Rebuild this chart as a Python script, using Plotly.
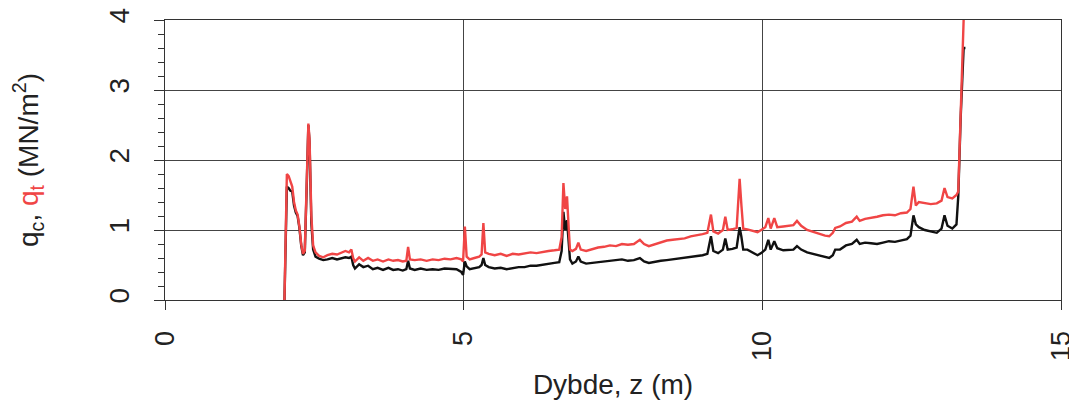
import plotly.graph_objects as go

depth = [2.00, 2.02, 2.04, 2.07, 2.10, 2.13, 2.16, 2.19, 2.22, 2.25, 2.28, 2.31, 2.34, 2.37, 2.40, 2.42, 2.45, 2.48,
         2.52, 2.58, 2.65, 2.72, 2.80, 2.88, 2.95, 3.02, 3.08, 3.12, 3.15, 3.18, 3.25, 3.32, 3.40, 3.48, 3.56, 3.65,
         3.74, 3.82, 3.90, 3.98, 4.04, 4.07, 4.10, 4.18, 4.28, 4.38, 4.48, 4.58, 4.68, 4.78, 4.88, 4.96, 4.99, 5.02,
         5.05, 5.10, 5.18, 5.26, 5.30, 5.33, 5.36, 5.42, 5.52, 5.62, 5.72, 5.82, 5.92, 6.02, 6.12, 6.22, 6.32, 6.42,
         6.52, 6.60, 6.64, 6.67, 6.70, 6.73, 6.76, 6.78, 6.82, 6.88, 6.92, 6.96, 7.05, 7.15, 7.25, 7.35, 7.45, 7.55,
         7.65, 7.75, 7.85, 7.95, 8.02, 8.10, 8.20, 8.30, 8.40, 8.50, 8.60, 8.70, 8.80, 8.90, 9.00, 9.08, 9.14, 9.18,
         9.26, 9.34, 9.38, 9.42, 9.50, 9.57, 9.60, 9.62, 9.65, 9.68, 9.75, 9.85, 9.92, 9.98, 10.05, 10.10, 10.14,
         10.20, 10.25, 10.35, 10.45, 10.52, 10.58, 10.65, 10.75, 10.85, 10.95, 11.05, 11.12, 11.18, 11.22, 11.30,
         11.40, 11.50, 11.58, 11.63, 11.72, 11.82, 11.92, 12.02, 12.12, 12.22, 12.32, 12.42, 12.48, 12.53, 12.57,
         12.62, 12.72, 12.82, 12.92, 13.00, 13.05, 13.10, 13.18, 13.25, 13.28, 13.32, 13.35, 13.37, 13.40]

qt = [0.00, 1.20, 1.80, 1.77, 1.68, 1.62, 1.40, 1.28, 1.22, 1.05, 0.80, 0.66, 0.70, 1.60, 2.52, 2.30, 1.20, 0.78,
      0.68, 0.63, 0.61, 0.64, 0.66, 0.65, 0.68, 0.70, 0.68, 0.72, 0.60, 0.55, 0.61, 0.56, 0.60, 0.56, 0.58, 0.55,
      0.58, 0.56, 0.57, 0.55, 0.56, 0.76, 0.58, 0.57, 0.58, 0.56, 0.58, 0.57, 0.59, 0.58, 0.60, 0.58, 0.55, 1.05,
      0.62, 0.58, 0.60, 0.62, 0.65, 1.10, 0.68, 0.66, 0.64, 0.66, 0.63, 0.66, 0.65, 0.66, 0.68, 0.67, 0.69, 0.70,
      0.71, 0.72, 0.90, 1.67, 1.30, 1.48, 1.00, 0.72, 0.70, 0.73, 0.82, 0.72, 0.70, 0.73, 0.75, 0.76, 0.78, 0.77,
      0.80, 0.79, 0.80, 0.86, 0.80, 0.77, 0.80, 0.82, 0.85, 0.86, 0.87, 0.88, 0.91, 0.92, 0.94, 0.96, 1.22, 0.98,
      0.95, 1.00, 1.19, 1.00, 1.01, 1.03, 1.40, 1.73, 1.35, 1.02, 1.01, 0.98, 0.97, 1.00, 1.04, 1.17, 1.02,
      1.17, 1.04, 1.05, 1.06, 1.07, 1.13, 1.06, 1.00, 0.97, 0.95, 0.92, 0.91, 0.96, 1.03, 1.05,
      1.10, 1.12, 1.19, 1.13, 1.16, 1.17, 1.19, 1.21, 1.22, 1.21, 1.24, 1.25, 1.30, 1.62, 1.35,
      1.40, 1.39, 1.37, 1.38, 1.42, 1.60, 1.47, 1.45, 1.50, 1.55, 2.80, 3.70, 4.00, 4.40]

qc = [0.00, 1.10, 1.62, 1.60, 1.56, 1.55, 1.35, 1.25, 1.20, 1.03, 0.78, 0.64, 0.68, 1.55, 2.50, 2.25, 1.10, 0.72,
      0.62, 0.59, 0.57, 0.58, 0.60, 0.58, 0.60, 0.61, 0.60, 0.62, 0.50, 0.45, 0.51, 0.47, 0.49, 0.44, 0.46, 0.43,
      0.46, 0.43, 0.44, 0.42, 0.44, 0.56, 0.45, 0.43, 0.45, 0.43, 0.44, 0.43, 0.45, 0.44, 0.44, 0.40, 0.36, 0.55,
      0.48, 0.44, 0.45, 0.47, 0.50, 0.60, 0.50, 0.47, 0.45, 0.46, 0.44, 0.46, 0.47, 0.47, 0.49, 0.49, 0.50, 0.52,
      0.53, 0.54, 0.70, 1.26, 1.00, 1.14, 0.80, 0.58, 0.52, 0.55, 0.62, 0.55, 0.52, 0.53, 0.55, 0.55, 0.56, 0.57,
      0.58, 0.56, 0.57, 0.60, 0.55, 0.53, 0.55, 0.56, 0.57, 0.58, 0.60, 0.60, 0.62, 0.63, 0.64, 0.66, 0.91, 0.70,
      0.67, 0.72, 0.88, 0.72, 0.73, 0.75, 0.95, 1.04, 0.90, 0.72, 0.72, 0.67, 0.64, 0.67, 0.72, 0.86, 0.72,
      0.84, 0.74, 0.71, 0.71, 0.72, 0.77, 0.72, 0.68, 0.66, 0.64, 0.62, 0.60, 0.64, 0.72, 0.72,
      0.78, 0.80, 0.86, 0.80, 0.82, 0.81, 0.80, 0.82, 0.84, 0.83, 0.85, 0.87, 0.92, 1.21, 1.08,
      1.04, 1.00, 0.98, 0.96, 1.02, 1.21, 1.06, 1.02, 1.08, 1.48, 2.60, 3.40, 3.60, 3.60]

x_ticks = [0, 5, 10, 15]
y_ticks = [0, 1, 2, 3, 4]

FONT = "Liberation Sans, Arial, sans-serif"

fig = go.Figure()
fig.add_trace(go.Scatter(x=depth, y=qc, mode="lines", name="qc",
                         line=dict(color="#111111", width=2.4)))
fig.add_trace(go.Scatter(x=depth, y=qt, mode="lines", name="qt",
                         line=dict(color="#f04545", width=2.4)))

# page body adds an 8px offset; sizes compensate for it
fig.update_layout(
    width=1069, height=402,
    margin=dict(l=157, r=16, t=12, b=110),
    paper_bgcolor="white", plot_bgcolor="white",
    showlegend=False,
    font=dict(family=FONT, color="#222222"),
)

fig.update_xaxes(
    range=[0, 15], tickvals=x_ticks, ticktext=[str(v) for v in x_ticks],
    tickangle=-90, tickfont=dict(size=27, family=FONT),
    ticks="outside", ticklen=9, tickcolor="#333333",
    showline=True, linecolor="#333333", linewidth=1.2, mirror=True,
    showgrid=True, gridcolor="#444444", gridwidth=1,
    zeroline=False, ticklabelstandoff=10, automargin=False,
    title=dict(text="Dybde, z (m)", font=dict(size=28, family=FONT), standoff=14),
)

fig.update_yaxes(
    range=[0, 4], tickvals=y_ticks, ticktext=[str(v) for v in y_ticks],
    tickangle=-90, tickfont=dict(size=28, family=FONT),
    ticks="outside", ticklen=10, tickcolor="#333333",
    minor=dict(dtick=0.2, ticks="outside", ticklen=6, tickcolor="#333333", showgrid=False),
    showline=True, linecolor="#333333", linewidth=1.2, mirror=True,
    showgrid=True, gridcolor="#444444", gridwidth=1,
    zeroline=False, ticklabelstandoff=14, automargin=False,
    title=dict(text="q<sub>c</sub>, <span style='color:#f04545'>q<sub>t</sub></span> (MN/m<sup>2</sup>)",
               font=dict(size=28, family=FONT), standoff=58),
)

fig.write_html("out.html")
